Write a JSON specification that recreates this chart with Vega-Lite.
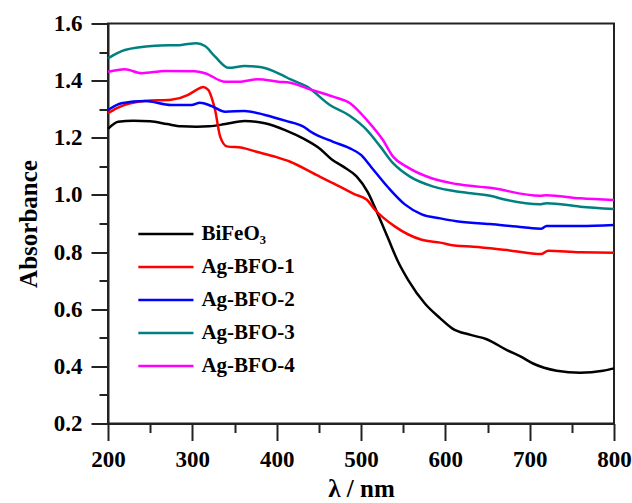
{
  "$schema": "https://vega.github.io/schema/vega-lite/v6.json",
  "width": 506,
  "height": 400,
  "autosize": "none",
  "padding": {"left": 108, "top": 23.5, "right": 18, "bottom": 79.5},
  "background": "white",
  "datasets": {
    "spectra": [
      {"s": "BiFeO₃", "wl": 200, "a": 1.231}, {"s": "BiFeO₃", "wl": 212, "a": 1.256}, {"s": "BiFeO₃", "wl": 230, "a": 1.26}, {"s": "BiFeO₃", "wl": 250, "a": 1.258}, {"s": "BiFeO₃", "wl": 270, "a": 1.248}, {"s": "BiFeO₃", "wl": 287, "a": 1.24}, {"s": "BiFeO₃", "wl": 305, "a": 1.239}, {"s": "BiFeO₃", "wl": 320, "a": 1.24}, {"s": "BiFeO₃", "wl": 339, "a": 1.248}, {"s": "BiFeO₃", "wl": 362, "a": 1.259}, {"s": "BiFeO₃", "wl": 386, "a": 1.251}, {"s": "BiFeO₃", "wl": 410, "a": 1.227}, {"s": "BiFeO₃", "wl": 433, "a": 1.195}, {"s": "BiFeO₃", "wl": 452, "a": 1.16}, {"s": "BiFeO₃", "wl": 465, "a": 1.125}, {"s": "BiFeO₃", "wl": 479, "a": 1.099}, {"s": "BiFeO₃", "wl": 495, "a": 1.064}, {"s": "BiFeO₃", "wl": 508, "a": 1.01}, {"s": "BiFeO₃", "wl": 520, "a": 0.932}, {"s": "BiFeO₃", "wl": 532, "a": 0.849}, {"s": "BiFeO₃", "wl": 544, "a": 0.766}, {"s": "BiFeO₃", "wl": 556, "a": 0.702}, {"s": "BiFeO₃", "wl": 576, "a": 0.619}, {"s": "BiFeO₃", "wl": 594, "a": 0.568}, {"s": "BiFeO₃", "wl": 608, "a": 0.533}, {"s": "BiFeO₃", "wl": 630, "a": 0.51}, {"s": "BiFeO₃", "wl": 649, "a": 0.495}, {"s": "BiFeO₃", "wl": 673, "a": 0.457}, {"s": "BiFeO₃", "wl": 689, "a": 0.435}, {"s": "BiFeO₃", "wl": 704, "a": 0.41}, {"s": "BiFeO₃", "wl": 732, "a": 0.385}, {"s": "BiFeO₃", "wl": 760, "a": 0.378}, {"s": "BiFeO₃", "wl": 787, "a": 0.385}, {"s": "BiFeO₃", "wl": 800, "a": 0.393},
      {"s": "Ag-BFO-1", "wl": 200, "a": 1.286}, {"s": "Ag-BFO-1", "wl": 210, "a": 1.303}, {"s": "Ag-BFO-1", "wl": 220, "a": 1.315}, {"s": "Ag-BFO-1", "wl": 244, "a": 1.329}, {"s": "Ag-BFO-1", "wl": 275, "a": 1.333}, {"s": "Ag-BFO-1", "wl": 295, "a": 1.35}, {"s": "Ag-BFO-1", "wl": 305, "a": 1.368}, {"s": "Ag-BFO-1", "wl": 313, "a": 1.378}, {"s": "Ag-BFO-1", "wl": 319, "a": 1.367}, {"s": "Ag-BFO-1", "wl": 324, "a": 1.33}, {"s": "Ag-BFO-1", "wl": 327, "a": 1.297}, {"s": "Ag-BFO-1", "wl": 333, "a": 1.204}, {"s": "Ag-BFO-1", "wl": 341, "a": 1.17}, {"s": "Ag-BFO-1", "wl": 359, "a": 1.165}, {"s": "Ag-BFO-1", "wl": 375, "a": 1.152}, {"s": "Ag-BFO-1", "wl": 399, "a": 1.133}, {"s": "Ag-BFO-1", "wl": 416, "a": 1.116}, {"s": "Ag-BFO-1", "wl": 447, "a": 1.07}, {"s": "Ag-BFO-1", "wl": 475, "a": 1.029}, {"s": "Ag-BFO-1", "wl": 492, "a": 1.003}, {"s": "Ag-BFO-1", "wl": 507, "a": 0.983}, {"s": "Ag-BFO-1", "wl": 516, "a": 0.95}, {"s": "Ag-BFO-1", "wl": 540, "a": 0.89}, {"s": "Ag-BFO-1", "wl": 572, "a": 0.843}, {"s": "Ag-BFO-1", "wl": 594, "a": 0.833}, {"s": "Ag-BFO-1", "wl": 613, "a": 0.822}, {"s": "Ag-BFO-1", "wl": 633, "a": 0.819}, {"s": "Ag-BFO-1", "wl": 673, "a": 0.807}, {"s": "Ag-BFO-1", "wl": 714, "a": 0.793}, {"s": "Ag-BFO-1", "wl": 722, "a": 0.805}, {"s": "Ag-BFO-1", "wl": 760, "a": 0.799}, {"s": "Ag-BFO-1", "wl": 800, "a": 0.798},
      {"s": "Ag-BFO-2", "wl": 200, "a": 1.297}, {"s": "Ag-BFO-2", "wl": 216, "a": 1.321}, {"s": "Ag-BFO-2", "wl": 244, "a": 1.329}, {"s": "Ag-BFO-2", "wl": 275, "a": 1.315}, {"s": "Ag-BFO-2", "wl": 299, "a": 1.315}, {"s": "Ag-BFO-2", "wl": 309, "a": 1.323}, {"s": "Ag-BFO-2", "wl": 323, "a": 1.311}, {"s": "Ag-BFO-2", "wl": 339, "a": 1.291}, {"s": "Ag-BFO-2", "wl": 362, "a": 1.294}, {"s": "Ag-BFO-2", "wl": 386, "a": 1.28}, {"s": "Ag-BFO-2", "wl": 410, "a": 1.26}, {"s": "Ag-BFO-2", "wl": 433, "a": 1.237}, {"s": "Ag-BFO-2", "wl": 440, "a": 1.222}, {"s": "Ag-BFO-2", "wl": 467, "a": 1.186}, {"s": "Ag-BFO-2", "wl": 487, "a": 1.163}, {"s": "Ag-BFO-2", "wl": 500, "a": 1.14}, {"s": "Ag-BFO-2", "wl": 512, "a": 1.098}, {"s": "Ag-BFO-2", "wl": 532, "a": 1.027}, {"s": "Ag-BFO-2", "wl": 552, "a": 0.967}, {"s": "Ag-BFO-2", "wl": 572, "a": 0.932}, {"s": "Ag-BFO-2", "wl": 594, "a": 0.918}, {"s": "Ag-BFO-2", "wl": 613, "a": 0.908}, {"s": "Ag-BFO-2", "wl": 653, "a": 0.898}, {"s": "Ag-BFO-2", "wl": 692, "a": 0.887}, {"s": "Ag-BFO-2", "wl": 714, "a": 0.882}, {"s": "Ag-BFO-2", "wl": 720, "a": 0.891}, {"s": "Ag-BFO-2", "wl": 760, "a": 0.891}, {"s": "Ag-BFO-2", "wl": 800, "a": 0.895},
      {"s": "Ag-BFO-3", "wl": 200, "a": 1.478}, {"s": "Ag-BFO-3", "wl": 220, "a": 1.507}, {"s": "Ag-BFO-3", "wl": 256, "a": 1.522}, {"s": "Ag-BFO-3", "wl": 287, "a": 1.525}, {"s": "Ag-BFO-3", "wl": 305, "a": 1.531}, {"s": "Ag-BFO-3", "wl": 315, "a": 1.521}, {"s": "Ag-BFO-3", "wl": 327, "a": 1.484}, {"s": "Ag-BFO-3", "wl": 343, "a": 1.445}, {"s": "Ag-BFO-3", "wl": 362, "a": 1.451}, {"s": "Ag-BFO-3", "wl": 382, "a": 1.447}, {"s": "Ag-BFO-3", "wl": 406, "a": 1.42}, {"s": "Ag-BFO-3", "wl": 416, "a": 1.405}, {"s": "Ag-BFO-3", "wl": 436, "a": 1.379}, {"s": "Ag-BFO-3", "wl": 463, "a": 1.315}, {"s": "Ag-BFO-3", "wl": 487, "a": 1.276}, {"s": "Ag-BFO-3", "wl": 507, "a": 1.227}, {"s": "Ag-BFO-3", "wl": 523, "a": 1.169}, {"s": "Ag-BFO-3", "wl": 538, "a": 1.111}, {"s": "Ag-BFO-3", "wl": 558, "a": 1.064}, {"s": "Ag-BFO-3", "wl": 586, "a": 1.029}, {"s": "Ag-BFO-3", "wl": 621, "a": 1.009}, {"s": "Ag-BFO-3", "wl": 653, "a": 0.997}, {"s": "Ag-BFO-3", "wl": 673, "a": 0.982}, {"s": "Ag-BFO-3", "wl": 712, "a": 0.967}, {"s": "Ag-BFO-3", "wl": 720, "a": 0.971}, {"s": "Ag-BFO-3", "wl": 760, "a": 0.959}, {"s": "Ag-BFO-3", "wl": 800, "a": 0.951},
      {"s": "Ag-BFO-4", "wl": 200, "a": 1.431}, {"s": "Ag-BFO-4", "wl": 220, "a": 1.44}, {"s": "Ag-BFO-4", "wl": 240, "a": 1.426}, {"s": "Ag-BFO-4", "wl": 268, "a": 1.434}, {"s": "Ag-BFO-4", "wl": 303, "a": 1.433}, {"s": "Ag-BFO-4", "wl": 315, "a": 1.426}, {"s": "Ag-BFO-4", "wl": 339, "a": 1.396}, {"s": "Ag-BFO-4", "wl": 355, "a": 1.396}, {"s": "Ag-BFO-4", "wl": 378, "a": 1.405}, {"s": "Ag-BFO-4", "wl": 402, "a": 1.396}, {"s": "Ag-BFO-4", "wl": 416, "a": 1.393}, {"s": "Ag-BFO-4", "wl": 436, "a": 1.373}, {"s": "Ag-BFO-4", "wl": 467, "a": 1.344}, {"s": "Ag-BFO-4", "wl": 487, "a": 1.321}, {"s": "Ag-BFO-4", "wl": 507, "a": 1.262}, {"s": "Ag-BFO-4", "wl": 526, "a": 1.192}, {"s": "Ag-BFO-4", "wl": 538, "a": 1.134}, {"s": "Ag-BFO-4", "wl": 554, "a": 1.099}, {"s": "Ag-BFO-4", "wl": 582, "a": 1.06}, {"s": "Ag-BFO-4", "wl": 613, "a": 1.038}, {"s": "Ag-BFO-4", "wl": 653, "a": 1.025}, {"s": "Ag-BFO-4", "wl": 712, "a": 0.997}, {"s": "Ag-BFO-4", "wl": 720, "a": 0.999}, {"s": "Ag-BFO-4", "wl": 760, "a": 0.988}, {"s": "Ag-BFO-4", "wl": 800, "a": 0.982}
    ]
  },
  "data": {"name": "spectra"},
  "layer": [
    {
      "mark": {"type": "line", "strokeWidth": 2.5, "interpolate": "monotone"},
      "encoding": {
        "x": {
          "field": "wl", "type": "quantitative",
          "scale": {"domain": [200, 800], "nice": false, "zero": false},
          "axis": {"values": [200, 300, 400, 500, 600, 700, 800], "title": "λ / nm", "tickSize": 17, "labelPadding": 8, "titlePadding": 5, "grid": false, "labelFlush": false}
        },
        "y": {
          "field": "a", "type": "quantitative",
          "scale": {"domain": [0.2, 1.6], "nice": false, "zero": false},
          "axis": {"values": [0.2, 0.4, 0.6, 0.8, 1.0, 1.2, 1.4, 1.6], "format": ".1f", "title": "Absorbance", "tickSize": 17, "labelPadding": 9, "titlePadding": 12, "grid": false, "labelFlush": false}
        },
        "color": {
          "field": "s", "type": "nominal",
          "scale": {"domain": ["BiFeO₃", "Ag-BFO-1", "Ag-BFO-2", "Ag-BFO-3", "Ag-BFO-4"], "range": ["#000000", "#ff0000", "#0000ff", "#008080", "#ff00ff"]},
          "legend": {
            "orient": "none", "legendX": 35.4, "legendY": 188, "title": null,
            "symbolType": "M-1.3,0H1.3", "symbolSize": 1800, "symbolStrokeWidth": 2.5,
            "labelFont": "Liberation Serif", "labelFontWeight": "bold", "labelFontSize": 21, "labelColor": "#000",
            "labelOffset": 13, "rowPadding": 0
          }
        }
      }
    },
    {
      "mark": {"type": "point", "opacity": 0},
      "encoding": {
        "x": {
          "field": "wl", "type": "quantitative",
          "axis": {"orient": "bottom", "values": [250, 350, 450, 550, 650, 750], "labels": false, "domain": false, "title": null, "tickSize": 9, "grid": false}
        },
        "y": {
          "field": "a", "type": "quantitative",
          "axis": {"orient": "left", "values": [0.3, 0.5, 0.7, 0.9, 1.1, 1.3, 1.5], "labels": false, "domain": false, "title": null, "tickSize": 9, "grid": false}
        }
      }
    }
  ],
  "resolve": {"axis": {"x": "independent", "y": "independent"}},
  "config": {
    "view": {"stroke": "#222", "strokeWidth": 2},
    "axis": {
      "domainColor": "#222", "domainWidth": 2, "tickColor": "#222", "tickWidth": 2,
      "labelFont": "Liberation Serif", "labelFontWeight": "bold", "labelFontSize": 23, "labelColor": "#000",
      "titleFont": "Liberation Serif", "titleFontWeight": "bold", "titleFontSize": 25, "titleColor": "#000"
    }
  }
}
